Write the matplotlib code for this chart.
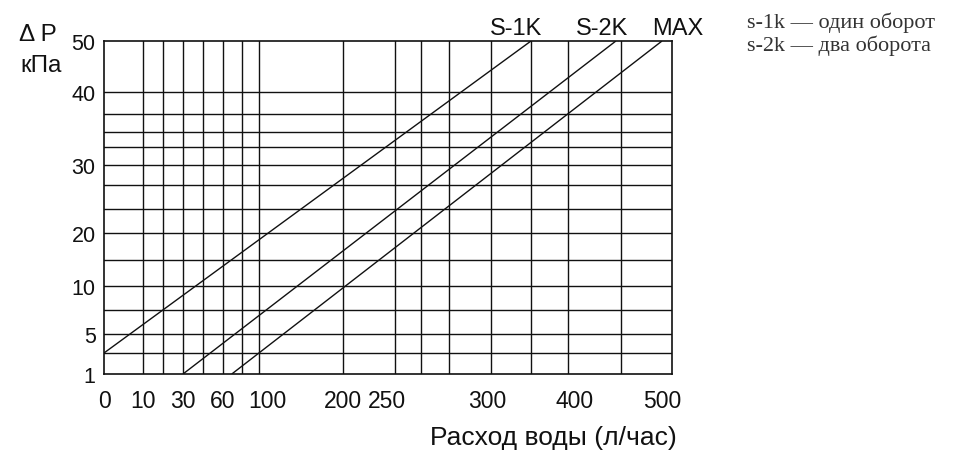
import numpy as np
import matplotlib
matplotlib.use('Agg')
import matplotlib.pyplot as plt

# ---------------- data ----------------
flow_ticks = [0, 10, 30, 60, 100, 200, 250, 300, 400, 500]          # л/час labels
dp_ticks = [1, 5, 10, 20, 30, 40, 50]                               # кПа labels
flow_grid = [10, 20, 30, 45, 60, 77, 93, 200, 254, 267, 281, 305, 350, 392, 453]
dp_grid = [3.1, 5, 7.5, 10, 15, 20, 23.5, 27, 30, 32.5, 34.5, 37, 40]
series_names = ['S-1K', 'S-2K', 'MAX']
series_flow = [[0, 350], [30, 447], [68, 500]]
series_dp = [[3.1, 50], [1, 50], [1, 50]]
notes = ['s-1k — один оборот', 's-2k — два оборота']

# ---------------- scale layout (nomogram spacing of labels) ----------------
x_tick_pos = [0, 39, 79, 119, 163, 239, 283, 383, 471, 558]
y_tick_pos = [0, 40, 88, 141, 209, 282, 333]
X_END_POS = 568
Y_END_POS = 333


def make_scale(vals, pos):
    vals = np.asarray(vals, float)
    pos = np.asarray(pos, float)

    def conv(v, a, b):
        v = np.asarray(v, float)
        out = np.interp(v, a, b)
        lo = v < a[0]
        hi = v > a[-1]
        out = np.where(lo, b[0] + (v - a[0]) * (b[1] - b[0]) / (a[1] - a[0]), out)
        out = np.where(hi, b[-1] + (v - a[-1]) * (b[-1] - b[-2]) / (a[-1] - a[-2]), out)
        return out

    return (lambda v: conv(v, vals, pos)), (lambda p: conv(p, pos, vals))


fx, ix = make_scale(flow_ticks, x_tick_pos)
fy, iy = make_scale(dp_ticks, y_tick_pos)

W, H = 955, 456
fig = plt.figure(figsize=(W / 100, H / 100), dpi=100)
L, R, T, B = 104, 672, 42, 375
ax = fig.add_axes([L / W, 1 - B / H, (R - L) / W, (B - T) / H])
ax.set_xscale('function', functions=(fx, ix))
ax.set_yscale('function', functions=(fy, iy))
ax.set_xlim(0, float(ix(X_END_POS)))
ax.set_ylim(1, float(iy(Y_END_POS)))

col = '#111111'
for v in flow_grid:
    ax.axvline(v, color=col, lw=1.0, zorder=1)
for v in dp_grid:
    ax.axhline(v, color=col, lw=1.0, zorder=1)

for fl, dp in zip(series_flow, series_dp):
    ax.plot(fl, dp, color=col, lw=1.0, zorder=2, solid_capstyle='butt')

label_dx = [-11, -10, 11]
for name, fl, dp, dx in zip(series_names, series_flow, series_dp, label_dx):
    ax.annotate(name, xy=(fl[-1], dp[-1]), xytext=(dx, 5), textcoords='offset points',
                ha='center', va='baseline', fontsize=17, family='Liberation Sans',
                color=col, annotation_clip=False)

for s in ax.spines.values():
    s.set_color(col)
    s.set_linewidth(1.2)

ax.set_xticks(flow_ticks)
ax.set_xticklabels([str(v) for v in flow_ticks])
ax.set_yticks(dp_ticks)
ax.set_yticklabels([str(v) for v in dp_ticks])
ax.minorticks_off()
ax.tick_params(axis='both', length=0, colors=col)
ax.tick_params(axis='x', pad=11, labelsize=16.5)
ax.tick_params(axis='y', pad=6, labelsize=15.5)
for t in ax.get_xticklabels() + ax.get_yticklabels():
    t.set_family('Liberation Sans')

fig.text(38 / W, 1 - 35 / H, 'Δ P', ha='center', va='center', fontsize=17.5,
         family='Liberation Sans', color=col)
fig.text(41 / W, 1 - 66 / H, 'кПа', ha='center', va='center', fontsize=17.5,
         family='Liberation Sans', color=col)
fig.text(553 / W, 1 - 438 / H, 'Расход воды (л/час)', ha='center', va='center',
         fontsize=19, family='Liberation Sans', color=col)

for i, n in enumerate(notes):
    fig.text(747 / W, 1 - (23 + 23 * i) / H, n, ha='left', va='center', fontsize=16,
             family='Liberation Serif', color='#333333')

fig.savefig('out.png', dpi=100)
